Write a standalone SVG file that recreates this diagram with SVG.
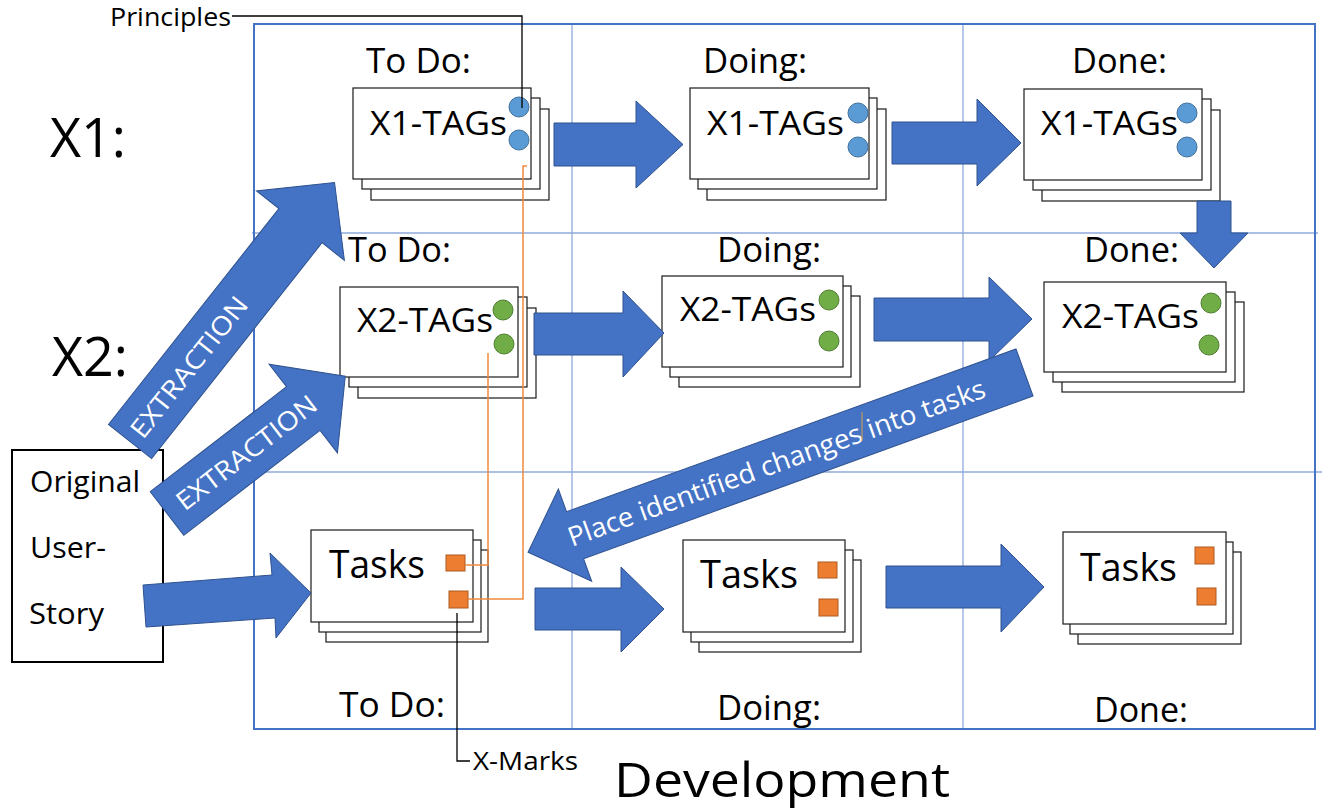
<svg xmlns="http://www.w3.org/2000/svg" width="1324" height="810" viewBox="0 0 1324 810">
<style>
.frame{fill:none;stroke:#4472C4;stroke-width:2}
.grid{stroke:#8FAADC;stroke-width:1.3}
.card{fill:#fff;stroke:#1a1a1a;stroke-width:1.2}
.blk{fill:#4472C4;stroke:#2F528F;stroke-width:1}
.t{font-family:"Open Sans","Liberation Sans",sans-serif;fill:#000}
.w{font-family:"Open Sans","Liberation Sans",sans-serif;fill:#fff}
.hd{font-size:35px}
.tag{font-size:32px}
.tsk{font-size:39px}
.cb{fill:#5B9BD5;stroke:#41719C;stroke-width:1}
.cg{fill:#70AD47;stroke:#507E32;stroke-width:1}
.sq{fill:#ED7D31;stroke:#AE5A21;stroke-width:1}
.or{fill:none;stroke:#F08A3C;stroke-width:1.5}
.lead{fill:none;stroke:#000;stroke-width:1.3}
.box{fill:#fff;stroke:#000;stroke-width:2}
</style>

<g id="board">
  <line class="grid" x1="572" y1="24" x2="572" y2="729"/>
  <line class="grid" x1="963" y1="24" x2="963" y2="729"/>
  <line class="grid" x1="252" y1="233" x2="1318" y2="233"/>
  <line class="grid" x1="254" y1="472" x2="1322" y2="472"/>
  <rect class="frame" x="254" y="24" width="1061" height="705"/>
</g>

<g id="labels">
  <text class="t" x="50" y="157" font-size="55" textLength="76" lengthAdjust="spacingAndGlyphs">X1:</text>
  <text class="t" x="52" y="376" font-size="55" textLength="76" lengthAdjust="spacingAndGlyphs">X2:</text>
  <text class="t hd" x="366" y="73" textLength="105" lengthAdjust="spacingAndGlyphs">To Do:</text>
  <text class="t hd" x="703" y="73" textLength="104" lengthAdjust="spacingAndGlyphs">Doing:</text>
  <text class="t hd" x="1072" y="73" textLength="95" lengthAdjust="spacingAndGlyphs">Done:</text>
  <text class="t hd" x="348" y="262" textLength="103" lengthAdjust="spacingAndGlyphs">To Do:</text>
  <text class="t hd" x="717" y="262" textLength="104" lengthAdjust="spacingAndGlyphs">Doing:</text>
  <text class="t hd" x="1084" y="262" textLength="95" lengthAdjust="spacingAndGlyphs">Done:</text>
  <text class="t hd" x="339" y="717" textLength="106" lengthAdjust="spacingAndGlyphs">To Do:</text>
  <text class="t hd" x="717" y="720" textLength="104" lengthAdjust="spacingAndGlyphs">Doing:</text>
  <text class="t hd" x="1094" y="722" textLength="94" lengthAdjust="spacingAndGlyphs">Done:</text>
  <text class="t" x="614" y="797" font-size="48" textLength="336" lengthAdjust="spacingAndGlyphs">Development</text>
  <text class="t" x="110" y="26" font-size="26" textLength="121" lengthAdjust="spacingAndGlyphs">Principles</text>
  <text class="t" x="473" y="770" font-size="25" textLength="105" lengthAdjust="spacingAndGlyphs">X-Marks</text>
</g>

<g id="story">
  <rect class="box" x="12" y="450" width="151" height="212"/>
  <text class="t" x="30" y="492" font-size="29" textLength="110" lengthAdjust="spacingAndGlyphs">Original</text>
  <text class="t" x="30" y="558" font-size="29" textLength="76" lengthAdjust="spacingAndGlyphs">User-</text>
  <text class="t" x="29" y="624" font-size="29" textLength="75" lengthAdjust="spacingAndGlyphs">Story</text>
</g>

<g id="x1-todo">
  <rect class="card" x="371" y="109" width="178" height="91"/>
  <rect class="card" x="362" y="98" width="178" height="91"/>
  <rect class="card" x="353" y="88" width="178" height="91"/>
  <text class="t tag" x="370" y="135" textLength="137" lengthAdjust="spacingAndGlyphs">X1-TAGs</text>
  <circle class="cb" cx="519" cy="107" r="10"/>
  <circle class="cb" cx="519" cy="140" r="10"/>
</g>
<g id="x1-doing">
  <rect class="card" x="707" y="109" width="179" height="91"/>
  <rect class="card" x="698" y="98" width="179" height="91"/>
  <rect class="card" x="690" y="88" width="179" height="91"/>
  <text class="t tag" x="707" y="135" textLength="137" lengthAdjust="spacingAndGlyphs">X1-TAGs</text>
  <circle class="cb" cx="858" cy="113" r="10"/>
  <circle class="cb" cx="858" cy="147" r="10"/>
</g>
<g id="x1-done">
  <rect class="card" x="1042" y="110" width="178" height="91"/>
  <rect class="card" x="1033" y="99" width="178" height="91"/>
  <rect class="card" x="1024" y="89" width="178" height="91"/>
  <text class="t tag" x="1041" y="135" textLength="137" lengthAdjust="spacingAndGlyphs">X1-TAGs</text>
  <circle class="cb" cx="1187" cy="113" r="10"/>
  <circle class="cb" cx="1187" cy="147" r="10"/>
</g>

<g id="x2-todo">
  <rect class="card" x="358" y="308" width="178" height="90"/>
  <rect class="card" x="349" y="297" width="178" height="90"/>
  <rect class="card" x="340" y="287" width="178" height="90"/>
  <text class="t tag" x="357" y="332" textLength="136" lengthAdjust="spacingAndGlyphs">X2-TAGs</text>
  <circle class="cg" cx="503" cy="310" r="10"/>
  <circle class="cg" cx="504" cy="344" r="10"/>
</g>
<g id="x2-doing">
  <rect class="card" x="679" y="296" width="181" height="91"/>
  <rect class="card" x="670" y="286" width="181" height="91"/>
  <rect class="card" x="662" y="276" width="181" height="91"/>
  <text class="t tag" x="680" y="321" textLength="136" lengthAdjust="spacingAndGlyphs">X2-TAGs</text>
  <circle class="cg" cx="829" cy="300" r="10"/>
  <circle class="cg" cx="829" cy="341" r="10"/>
</g>
<g id="x2-done">
  <rect class="card" x="1062" y="302" width="182" height="90"/>
  <rect class="card" x="1053" y="292" width="182" height="90"/>
  <rect class="card" x="1044" y="282" width="182" height="90"/>
  <text class="t tag" x="1062" y="328" textLength="137" lengthAdjust="spacingAndGlyphs">X2-TAGs</text>
  <circle class="cg" cx="1211" cy="303" r="10"/>
  <circle class="cg" cx="1209" cy="345" r="10"/>
</g>

<g id="tasks-todo">
  <rect class="card" x="326" y="550" width="162" height="92"/>
  <rect class="card" x="319" y="540" width="162" height="92"/>
  <rect class="card" x="311" y="530" width="162" height="92"/>
  <text class="t tsk" x="329" y="578" textLength="96" lengthAdjust="spacingAndGlyphs">Tasks</text>
  <rect class="sq" x="446" y="555" width="19" height="16"/>
  <rect class="sq" x="449" y="591" width="19" height="17"/>
</g>
<g id="tasks-doing">
  <rect class="card" x="699" y="560" width="162" height="92"/>
  <rect class="card" x="691" y="550" width="162" height="92"/>
  <rect class="card" x="683" y="540" width="162" height="92"/>
  <text class="t tsk" x="700" y="588" textLength="98" lengthAdjust="spacingAndGlyphs">Tasks</text>
  <rect class="sq" x="818" y="562" width="19" height="16"/>
  <rect class="sq" x="819" y="599" width="19" height="17"/>
</g>
<g id="tasks-done">
  <rect class="card" x="1078" y="552" width="163" height="92"/>
  <rect class="card" x="1070" y="542" width="163" height="92"/>
  <rect class="card" x="1063" y="532" width="163" height="92"/>
  <text class="t tsk" x="1080" y="581" textLength="97" lengthAdjust="spacingAndGlyphs">Tasks</text>
  <rect class="sq" x="1195" y="547" width="19" height="17"/>
  <rect class="sq" x="1197" y="588" width="19" height="17"/>
</g>

<g id="connectors">
  <polygon class="blk" points="554,123 636,123 636,101 683,144.5 636,188 636,166 554,166"/>
  <polygon class="blk" points="892,122 977,122 977,99 1021,143 977,186 977,164 892,164"/>
  <polygon class="blk" points="1197,201 1231,201 1231,233 1248,233 1214,268 1180,233 1197,233"/>
  <polygon class="blk" points="534,313 623,313 623,291 664,333 623,377 623,355 534,355"/>
  <polygon class="blk" points="874,298 989,298 989,277 1032,319 989,361 989,341 874,341"/>
  <polygon class="blk" points="535,588 621,588 621,567 664,609 621,652 621,630 535,630"/>
  <polygon class="blk" points="886,566 1001,566 1001,544 1044,587 1001,632 1001,608 886,608"/>
  <polygon class="blk" points="143,585 272,575 270,553 311,593 276,638 275,618 146,627"/>
  <g transform="translate(130,441.5) rotate(-51.7)">
    <polygon class="blk" points="0,-27.5 275,-27.5 275,-56 330,0 275,56 275,27.5 0,27.5"/>
    <text class="w" x="95" y="9.5" font-size="26" text-anchor="middle" textLength="172" lengthAdjust="spacingAndGlyphs">EXTRACTION</text>
  </g>
  <g transform="translate(167,513.5) rotate(-37.6)">
    <polygon class="blk" points="0,-27.5 172,-27.5 172,-56 225,0 172,56 172,27.5 0,27.5"/>
    <text class="w" x="100" y="9.5" font-size="26" text-anchor="middle" textLength="170" lengthAdjust="spacingAndGlyphs">EXTRACTION</text>
  </g>
  <g transform="translate(1024.5,372.5) rotate(160.1)">
    <polygon class="blk" points="0,-25 478,-25 478,-49 528,0 478,49 478,25 0,25"/>
  </g>
  <text class="w" transform="translate(776.3,462.3) rotate(-19.9)" x="0" y="10" font-size="27" text-anchor="middle" textLength="442" lengthAdjust="spacingAndGlyphs">Place identified changes into tasks</text>
  <line x1="862" y1="412" x2="862" y2="441" stroke="#D4A04A" stroke-width="1"/>
  <polyline class="or" points="465,565 488,565 488,353"/>
  <polyline class="or" points="468,599 523,599 523,166 527,166"/>
  <polyline class="lead" points="232,16 522,16 522,108"/>
  <polyline class="lead" points="457,613 457,761 470,761"/>
</g>
</svg>
